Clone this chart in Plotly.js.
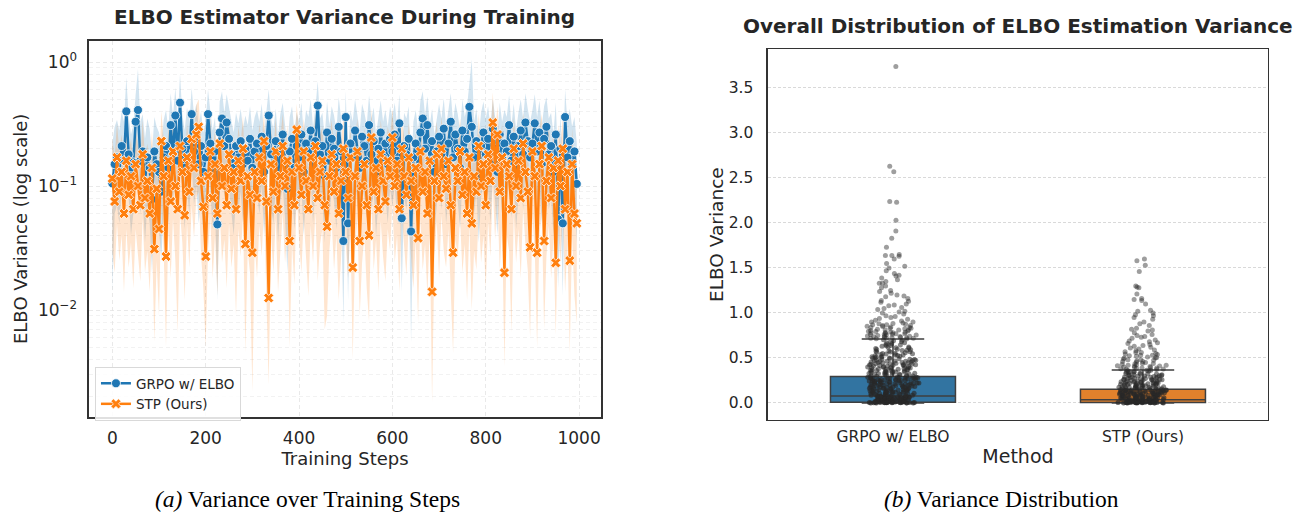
<!DOCTYPE html>
<html><head><meta charset="utf-8">
<script src="https://cdn.plot.ly/plotly-3.0.1.min.js"></script>
<style>html,body{margin:0;padding:0;background:#fff;}#chart{width:1299px;height:513px;}</style>
</head><body><div id="chart"></div>
<script>
// ---------- data ----------
const methods = ['GRPO w/ ELBO', 'STP (Ours)'];
const steps = [
0,5,10,15,20,25,30,35,40,45,50,55,60,65,70,75,80,85,90,95,
100,105,110,115,120,125,130,135,140,145,150,155,160,165,170,175,180,185,190,195,
200,205,210,215,220,225,230,235,240,245,250,255,260,265,270,275,280,285,290,295,
300,305,310,315,320,325,330,335,340,345,350,355,360,365,370,375,380,385,390,395,
400,405,410,415,420,425,430,435,440,445,450,455,460,465,470,475,480,485,490,495,
500,505,510,515,520,525,530,535,540,545,550,555,560,565,570,575,580,585,590,595,
600,605,610,615,620,625,630,635,640,645,650,655,660,665,670,675,680,685,690,695,
700,705,710,715,720,725,730,735,740,745,750,755,760,765,770,775,780,785,790,795,
800,805,810,815,820,825,830,835,840,845,850,855,860,865,870,875,880,885,890,895,
900,905,910,915,920,925,930,935,940,945,950,955,960,965,970,975,980,985,990,995];

const grpoMean = [
0.105,0.15,0.17,0.13,0.21,0.16,0.40,0.18,0.12,0.155,0.33,0.41,0.16,0.19,0.11,0.17,0.14,0.078,0.19,0.15,
0.13,0.09,0.17,0.21,0.14,0.31,0.18,0.37,0.16,0.47,0.20,0.14,0.23,0.17,0.38,0.19,0.25,0.15,0.21,0.13,
0.17,0.38,0.22,0.14,0.19,0.049,0.27,0.35,0.21,0.325,0.24,0.18,0.14,0.21,0.17,0.23,0.15,0.20,0.16,0.24,
0.14,0.19,0.22,0.17,0.25,0.13,0.21,0.37,0.18,0.15,0.23,0.12,0.20,0.26,0.16,0.095,0.19,0.24,0.14,0.21,
0.17,0.26,0.13,0.22,0.19,0.28,0.15,0.23,0.445,0.18,0.21,0.12,0.27,0.16,0.24,0.20,0.14,0.30,0.19,0.036,
0.36,0.05,0.22,0.17,0.28,0.19,0.14,0.25,0.21,0.16,0.31,0.18,0.23,0.13,0.20,0.27,0.17,0.22,0.15,0.24,
0.19,0.26,0.16,0.32,0.055,0.21,0.18,0.24,0.043,0.17,0.22,0.14,0.27,0.35,0.20,0.31,0.16,0.23,0.13,0.19,
0.25,0.18,0.29,0.15,0.22,0.33,0.17,0.26,0.20,0.14,0.28,0.19,0.24,0.435,0.30,0.17,0.23,0.12,0.21,0.27,
0.18,0.24,0.15,0.29,0.20,0.13,0.26,0.17,0.22,0.19,0.31,0.16,0.25,0.14,0.21,0.28,0.18,0.325,0.23,0.17,
0.22,0.32,0.19,0.27,0.15,0.24,0.30,0.18,0.21,0.13,0.26,0.054,0.20,0.05,0.36,0.17,0.23,0.15,0.19,0.104];

const grpoHigh = [
0.22,0.30,0.34,0.28,0.40,0.33,0.75,0.36,0.26,0.31,0.55,0.88,0.33,0.38,0.24,0.35,0.29,0.18,0.36,0.30,
0.27,0.21,0.34,0.41,0.29,0.56,0.36,0.62,0.32,0.80,0.38,0.28,0.43,0.33,0.62,0.37,0.46,0.30,0.40,0.27,
0.33,0.60,0.40,0.28,0.36,0.13,0.48,0.58,0.39,0.55,0.43,0.34,0.27,0.39,0.32,0.42,0.29,0.37,0.31,0.44,
0.28,0.36,0.41,0.33,0.46,0.26,0.39,0.60,0.35,0.29,0.42,0.25,0.38,0.47,0.31,0.21,0.36,0.44,0.28,0.39,
0.33,0.47,0.27,0.41,0.36,0.50,0.30,0.42,0.70,0.35,0.39,0.25,0.48,0.31,0.44,0.37,0.28,0.52,0.36,0.10,
0.58,0.14,0.41,0.33,0.50,0.36,0.28,0.46,0.39,0.31,0.54,0.35,0.43,0.26,0.37,0.49,0.33,0.41,0.30,0.44,
0.36,0.47,0.31,0.55,0.15,0.39,0.35,0.44,0.12,0.33,0.41,0.28,0.49,0.58,0.37,0.53,0.31,0.42,0.26,0.36,
0.46,0.35,0.51,0.30,0.41,0.56,0.33,0.47,0.38,0.28,0.50,0.36,0.44,0.68,1.05,0.33,0.42,0.25,0.39,0.48,
0.35,0.44,0.30,0.51,0.38,0.26,0.47,0.33,0.41,0.36,0.54,0.31,0.46,0.28,0.39,0.50,0.35,0.56,0.42,0.33,
0.41,0.55,0.36,0.49,0.30,0.44,0.52,0.35,0.39,0.26,0.47,0.15,0.38,0.14,0.60,0.33,0.42,0.30,0.36,0.22];

const grpoLow = [
0.014,0.06,0.07,0.05,0.09,0.06,0.16,0.07,0.04,0.06,0.12,0.15,0.06,0.08,0.035,0.07,0.05,0.02,0.08,0.055,
0.045,0.025,0.065,0.09,0.05,0.13,0.07,0.15,0.06,0.18,0.08,0.045,0.09,0.06,0.15,0.07,0.10,0.05,0.08,0.04,
0.06,0.15,0.09,0.045,0.07,0.012,0.11,0.14,0.08,0.13,0.095,0.065,0.04,0.08,0.06,0.09,0.05,0.075,0.055,0.095,
0.045,0.07,0.085,0.06,0.10,0.04,0.08,0.15,0.065,0.05,0.09,0.035,0.075,0.10,0.055,0.02,0.07,0.095,0.045,0.08,
0.06,0.10,0.04,0.085,0.07,0.11,0.05,0.09,0.18,0.065,0.08,0.035,0.105,0.055,0.095,0.075,0.045,0.12,0.07,0.008,
0.14,0.012,0.085,0.06,0.11,0.07,0.045,0.10,0.08,0.055,0.12,0.065,0.09,0.04,0.075,0.105,0.06,0.085,0.05,0.095,
0.07,0.10,0.055,0.13,0.014,0.08,0.065,0.095,0.0055,0.06,0.085,0.045,0.105,0.14,0.075,0.12,0.055,0.09,0.04,0.07,
0.10,0.065,0.115,0.05,0.085,0.13,0.06,0.10,0.075,0.045,0.11,0.07,0.095,0.18,0.12,0.06,0.09,0.035,0.08,0.105,
0.065,0.095,0.05,0.115,0.075,0.04,0.10,0.06,0.085,0.07,0.12,0.055,0.10,0.045,0.08,0.11,0.065,0.13,0.09,0.06,
0.085,0.13,0.07,0.105,0.05,0.095,0.12,0.065,0.08,0.04,0.10,0.015,0.075,0.013,0.14,0.06,0.09,0.05,0.07,0.035];

const stpMean = [
0.115,0.075,0.17,0.09,0.13,0.06,0.16,0.085,0.12,0.065,0.15,0.10,0.07,0.18,0.08,0.11,0.06,0.14,0.031,0.095,
0.045,0.23,0.12,0.027,0.16,0.075,0.19,0.10,0.065,0.21,0.13,0.058,0.17,0.09,0.24,0.14,0.26,0.30,0.11,0.068,
0.027,0.12,0.19,0.08,0.15,0.06,0.22,0.10,0.14,0.07,0.18,0.095,0.13,0.065,0.16,0.11,0.20,0.034,0.12,0.085,
0.029,0.13,0.08,0.17,0.11,0.23,0.075,0.0125,0.15,0.09,0.19,0.065,0.12,0.21,0.10,0.16,0.036,0.13,0.07,0.285,
0.14,0.085,0.19,0.11,0.065,0.17,0.10,0.21,0.08,0.13,0.16,0.07,0.047,0.12,0.18,0.09,0.15,0.06,0.11,0.20,
0.13,0.08,0.17,0.022,0.12,0.19,0.036,0.10,0.15,0.07,0.04,0.246,0.09,0.14,0.065,0.18,0.11,0.075,0.16,0.12,
0.246,0.10,0.15,0.065,0.20,0.12,0.085,0.17,0.11,0.07,0.14,0.038,0.19,0.09,0.13,0.06,0.16,0.014,0.11,0.18,
0.08,0.20,0.12,0.095,0.16,0.07,0.029,0.14,0.11,0.19,0.085,0.13,0.06,0.17,0.05,0.12,0.09,0.21,0.10,0.15,
0.07,0.18,0.11,0.325,0.14,0.26,0.09,0.17,0.020,0.15,0.12,0.065,0.20,0.10,0.16,0.08,0.22,0.13,0.09,0.032,
0.19,0.12,0.029,0.15,0.21,0.036,0.11,0.17,0.08,0.14,0.024,0.16,0.10,0.20,0.065,0.13,0.025,0.15,0.06,0.05];

const stpHigh = [
0.24,0.17,0.32,0.19,0.26,0.14,0.30,0.18,0.24,0.15,0.29,0.21,0.16,0.34,0.17,0.22,0.14,0.28,0.09,0.20,
0.12,0.40,0.24,0.08,0.31,0.17,0.35,0.21,0.15,0.38,0.26,0.14,0.32,0.19,0.42,0.27,0.45,0.50,0.22,0.16,
0.08,0.24,0.35,0.18,0.29,0.14,0.39,0.21,0.27,0.16,0.33,0.20,0.26,0.15,0.30,0.22,0.37,0.10,0.24,0.18,
0.09,0.26,0.17,0.32,0.22,0.40,0.16,0.05,0.29,0.19,0.35,0.15,0.24,0.38,0.21,0.31,0.11,0.26,0.16,0.46,
0.27,0.18,0.35,0.22,0.15,0.32,0.21,0.38,0.17,0.26,0.30,0.16,0.12,0.24,0.34,0.19,0.29,0.14,0.22,0.36,
0.26,0.17,0.32,0.07,0.24,0.35,0.10,0.21,0.29,0.16,0.11,0.42,0.19,0.27,0.15,0.34,0.22,0.17,0.30,0.24,
0.42,0.21,0.29,0.15,0.36,0.24,0.18,0.32,0.22,0.16,0.27,0.11,0.35,0.19,0.26,0.14,0.31,0.05,0.22,0.33,
0.17,0.36,0.24,0.20,0.31,0.16,0.09,0.27,0.22,0.35,0.18,0.26,0.14,0.32,0.13,0.24,0.19,0.38,0.21,0.29,
0.16,0.34,0.22,0.57,0.27,0.44,0.19,0.32,0.07,0.29,0.24,0.15,0.36,0.21,0.31,0.17,0.39,0.26,0.19,0.10,
0.35,0.24,0.09,0.29,0.38,0.11,0.22,0.32,0.17,0.27,0.08,0.31,0.21,0.36,0.15,0.26,0.08,0.29,0.14,0.13];

const stpLow = [
0.03,0.02,0.05,0.025,0.04,0.014,0.045,0.022,0.035,0.015,0.045,0.028,0.017,0.055,0.02,0.03,0.014,0.04,0.0055,0.025,
0.009,0.07,0.03,0.005,0.045,0.018,0.055,0.025,0.0065,0.06,0.035,0.012,0.05,0.022,0.07,0.038,0.08,0.09,0.028,0.015,
0.005,0.03,0.055,0.018,0.04,0.013,0.065,0.024,0.037,0.015,0.05,0.022,0.034,0.009,0.045,0.027,0.058,0.0045,0.03,0.02,
0.0022,0.034,0.018,0.048,0.027,0.068,0.015,0.0025,0.04,0.02,0.055,0.014,0.03,0.06,0.024,0.045,0.005,0.034,0.016,0.09,
0.037,0.02,0.055,0.027,0.013,0.048,0.024,0.062,0.017,0.034,0.045,0.007,0.009,0.03,0.052,0.021,0.04,0.012,0.027,0.058,
0.034,0.018,0.048,0.004,0.03,0.055,0.009,0.024,0.04,0.015,0.008,0.075,0.021,0.037,0.014,0.052,0.027,0.017,0.045,0.03,
0.075,0.024,0.04,0.014,0.058,0.03,0.019,0.048,0.027,0.015,0.037,0.008,0.055,0.021,0.034,0.013,0.045,0.0018,0.027,0.052,
0.018,0.058,0.03,0.022,0.045,0.015,0.0045,0.037,0.027,0.055,0.02,0.034,0.012,0.048,0.01,0.03,0.021,0.062,0.024,0.04,
0.015,0.052,0.027,0.10,0.037,0.08,0.021,0.048,0.0035,0.04,0.03,0.0066,0.058,0.024,0.045,0.018,0.065,0.034,0.021,0.006,
0.055,0.03,0.005,0.04,0.062,0.007,0.027,0.048,0.018,0.037,0.0063,0.045,0.024,0.058,0.014,0.034,0.0045,0.04,0.013,0.0078];

const logTickVals = [0.01, 0.1, 1];
const logTickText = ['10<sup>\u22122</sup>', '10<sup>\u22121</sup>', '10<sup>0</sup>'];
const logMinorVals = [0.002,0.003,0.004,0.005,0.006,0.007,0.008,0.009,0.02,0.03,0.04,0.05,0.06,0.07,0.08,0.09,0.2,0.3,0.4,0.5,0.6,0.7,0.8,0.9];
const stepTicks = [0, 200, 400, 600, 800, 1000];
const varianceTicks = [0, 0.5, 1, 1.5, 2, 2.5, 3, 3.5];

// box statistics (per method)
const boxQ1 = [0.007, 0.004];
const boxMedian = [0.078, 0.037];
const boxQ3 = [0.293, 0.152];
const boxLowerFence = [0, 0];
const boxUpperFence = [0.711, 0.367];

// individual per-sample variances (strip points)
const grpoPoints = [
0.000,0.001,0.003,0.002,0.005,0.004,0.008,0.001,0.011,0.006,0.014,0.002,0.017,0.009,0.021,0.004,0.024,0.012,0.028,0.007,
0.031,0.015,0.035,0.003,0.038,0.019,0.042,0.010,0.046,0.023,0.049,0.005,0.053,0.026,0.057,0.013,0.060,0.030,0.064,0.016,
0.067,0.033,0.071,0.020,0.074,0.037,0.076,0.044,0.052,0.062,0.070,0.040,0.055,0.066,0.073,
0.002,0.006,0.009,0.013,0.018,0.022,0.027,0.032,0.036,0.041,0.045,0.050,0.054,0.058,0.063,0.068,0.072,0.077,0.001,0.004,
0.012,0.025,0.039,0.051,0.065,0.003,0.016,0.029,0.047,0.061,
0.081,0.085,0.088,0.093,0.097,0.100,0.105,0.108,0.113,0.117,0.120,0.125,0.129,0.132,0.137,0.140,0.145,0.149,0.153,0.156,
0.161,0.165,0.168,0.173,0.177,0.180,0.185,0.188,0.193,0.196,0.201,0.205,0.208,0.213,0.216,0.221,0.225,0.228,0.233,0.237,
0.240,0.245,0.249,0.252,0.257,0.260,0.265,0.268,0.273,0.276,0.281,0.284,0.289,0.087,0.106,0.127,0.146,0.166,0.187,0.206,
0.227,0.247,0.266,0.283,0.094,0.118,0.139,0.158,0.179,0.198,0.219,0.238,0.259,0.278,0.099,0.131,0.171,0.212,0.251,0.287,
0.083,0.091,0.102,0.111,0.122,0.134,0.143,0.154,0.163,0.175,0.183,0.191,0.203,0.215,0.223,0.231,0.243,0.254,0.262,0.271,
0.279,0.286,0.090,0.115,0.142,0.169,0.195,0.222,0.249,0.274,
0.296,0.301,0.305,0.310,0.314,0.318,0.323,0.327,0.331,0.336,0.340,0.345,0.349,0.353,0.358,0.362,0.367,0.371,0.376,0.380,
0.385,0.389,0.394,0.398,0.403,0.408,0.412,0.417,0.422,0.426,0.431,0.436,0.441,0.446,0.451,0.456,0.461,0.466,0.471,0.476,
0.482,0.487,0.492,0.498,0.503,0.509,0.515,0.520,0.526,0.532,0.538,0.544,0.550,0.557,0.563,0.570,0.577,0.584,0.591,0.598,
0.606,0.614,0.622,0.631,0.640,0.649,0.659,0.669,0.680,0.692,0.704,0.299,0.312,0.326,0.339,0.352,0.365,0.379,0.392,0.406,
0.420,0.434,0.449,0.464,0.479,0.495,0.512,0.529,0.547,0.566,0.587,0.610,0.636,0.665,0.698,
0.298,0.307,0.316,0.329,0.334,0.343,0.355,0.360,0.369,0.383,0.391,0.400,0.410,0.419,0.428,0.438,0.443,0.454,0.463,0.473,
0.485,0.500,0.517,0.535,0.553,0.574,0.595,0.618,0.645,0.675,
3.74,2.63,2.57,2.24,2.23,2.03,1.91,1.83,1.73,1.65,1.64,1.64,1.63,1.60,1.55,1.52,1.50,1.47,1.44,1.41,
1.39,1.37,1.35,1.33,1.30,1.28,1.25,1.22,1.20,1.18,1.16,1.14,1.12,1.10,1.08,1.06,1.04,1.02,1.00,0.99,
0.97,0.95,0.94,0.92,0.91,0.90,0.88,0.87,0.86,0.85,0.84,0.83,0.82,0.81,0.80,0.79,0.78,0.78,0.77,0.76,
0.76,0.75,0.74,0.74,0.73,0.73,0.72,0.72,0.715,0.725,0.735,0.745,0.755,0.765,0.775,0.785,0.795,0.805,0.815,0.83,
0.845,0.86,0.875,0.89,0.712,0.718,0.728,0.742,0.758,0.768,0.782,0.798,0.812,0.825,0.838,0.852,0.868,0.883,0.90,0.93,
0.96,1.01,1.05,1.09,1.13,1.19,1.24,1.33,1.42];

const stpPoints = [
0.000,0.001,0.002,0.001,0.003,0.004,0.002,0.005,0.006,0.003,0.007,0.008,0.004,0.009,0.011,0.005,0.012,0.014,0.006,0.015,
0.017,0.008,0.018,0.020,0.010,0.021,0.023,0.013,0.024,0.026,0.016,0.027,0.029,0.019,0.030,0.032,0.022,0.033,0.035,0.025,
0.000,0.002,0.004,0.006,0.009,0.012,0.015,0.019,0.023,0.028,0.031,0.034,0.001,0.005,0.010,
0.038,0.040,0.042,0.044,0.046,0.048,0.050,0.053,0.055,0.057,0.059,0.061,0.063,0.066,0.068,0.070,0.072,0.074,0.076,0.079,
0.081,0.083,0.085,0.087,0.089,0.092,0.094,0.096,0.098,0.100,0.102,0.105,0.107,0.109,0.111,0.113,0.115,0.118,0.120,0.122,
0.124,0.126,0.128,0.131,0.133,0.135,0.137,0.139,0.141,0.144,0.146,0.148,0.150,0.043,0.067,0.091,0.103,0.117,0.129,0.143,
0.039,0.045,0.052,0.058,0.064,0.071,0.078,0.084,0.090,0.097,0.104,0.110,0.116,0.123,0.130,0.136,0.142,0.149,0.056,0.088,
0.154,0.157,0.160,0.163,0.166,0.169,0.172,0.175,0.178,0.181,0.184,0.187,0.190,0.193,0.196,0.200,0.203,0.206,0.209,0.213,
0.216,0.219,0.223,0.226,0.229,0.233,0.236,0.240,0.243,0.247,0.250,0.254,0.258,0.261,0.265,0.269,0.273,0.277,0.281,0.285,
0.289,0.293,0.297,0.302,0.306,0.311,0.316,0.321,0.326,0.331,0.337,0.343,0.349,0.355,0.361,0.158,0.171,0.185,0.198,0.212,
0.227,0.242,0.257,0.272,0.288,0.305,0.323,0.342,0.363,0.365,
0.155,0.162,0.168,0.176,0.183,0.191,0.199,0.207,0.215,0.224,0.232,0.241,0.252,0.263,0.275,0.287,0.300,0.314,0.328,0.345,
1.60,1.58,1.53,1.46,1.30,1.29,1.28,1.21,1.16,1.15,1.14,1.10,1.03,1.02,1.00,0.98,0.95,0.93,0.90,0.88,
0.86,0.83,0.81,0.80,0.78,0.76,0.75,0.73,0.72,0.70,0.69,0.67,0.66,0.65,0.63,0.62,0.60,0.59,0.58,0.57,
0.56,0.55,0.54,0.53,0.52,0.51,0.50,0.49,0.48,0.47,0.46,0.45,0.44,0.43,0.42,0.41,0.40,0.39,0.385,0.38,
0.375,0.395,0.405,0.415,0.425,0.435,0.455,0.475,0.505,0.525,0.545,
0.372,0.378,0.388,0.398,0.410,0.420,0.440,0.460,0.480,0.500,0.530,0.560,0.610,0.640,0.680,0.740,0.820,0.970];

// ---------- styles ----------
const BLUE = '#1f77b4', ORANGE = '#ff7f0e';
const BLUE_BAND = 'rgba(31,119,180,0.2)', ORANGE_BAND = 'rgba(255,127,14,0.2)';
const boxFills = ['#3274a1', '#e1812c'];
const TXT = '#262626';
const FONT = 'DejaVu Sans, Verdana, sans-serif';
const tierAlpha = [0.7, 0.65, 0.55, 0.45];

const traces = [];
function band(lo, hi, color) {
  traces.push({x: steps, y: lo, type: 'scatter', mode: 'lines', line: {width: 0, color: color},
    hoverinfo: 'skip', showlegend: false, xaxis: 'x', yaxis: 'y'});
  traces.push({x: steps, y: hi, type: 'scatter', mode: 'lines', line: {width: 0, color: color},
    fill: 'tonexty', fillcolor: color, hoverinfo: 'skip', showlegend: false, xaxis: 'x', yaxis: 'y'});
}
band(grpoLow, grpoHigh, BLUE_BAND);
band(stpLow, stpHigh, ORANGE_BAND);

traces.push({x: steps, y: grpoMean, type: 'scatter', mode: 'lines+markers', name: methods[0],
  line: {color: BLUE, width: 2.5}, marker: {symbol: 'circle', size: 9, color: BLUE, line: {color: '#ffffff', width: 0.8}},
  xaxis: 'x', yaxis: 'y'});
traces.push({x: steps, y: stpMean, type: 'scatter', mode: 'lines+markers', name: methods[1],
  line: {color: ORANGE, width: 2.5}, marker: {symbol: 'x', size: 9, color: ORANGE, line: {color: '#ffffff', width: 0.8}},
  xaxis: 'x', yaxis: 'y'});

// boxes
methods.forEach((m, i) => {
  traces.push({type: 'box', x: [m], q1: [boxQ1[i]], median: [boxMedian[i]], q3: [boxQ3[i]],
    lowerfence: [boxLowerFence[i]], upperfence: [boxUpperFence[i]],
    fillcolor: boxFills[i], line: {color: '#3f3f3f', width: 1.5}, width: 0.5, whiskerwidth: 0.5,
    boxpoints: false, showlegend: false, hoverinfo: 'skip', xaxis: 'x2', yaxis: 'y2'});
});
// strip points (split into density tiers so the jitter stays even)
[grpoPoints, stpPoints].forEach((pts, i) => {
  const cuts = [-Infinity, boxMedian[i], boxQ3[i], boxUpperFence[i], Infinity];
  for (let k = 0; k < 4; k++) {
    const vals = pts.filter(v => v >= cuts[k] && v < cuts[k + 1]);
    traces.push({type: 'box', x: vals.map(() => methods[i]), y: vals, boxpoints: 'all', jitter: 0.42, pointpos: 0,
      fillcolor: 'rgba(0,0,0,0)', line: {width: 0, color: 'rgba(0,0,0,0)'}, width: 0.5,
      marker: {color: 'rgba(40,40,40,' + tierAlpha[k] + ')', size: 5, line: {width: 0}},
      showlegend: false, hoveron: 'points', xaxis: 'x2', yaxis: 'y2'});
  }
});

const frame = {showline: true, mirror: true, linecolor: '#333333', linewidth: 1.5, zeroline: false};

const layout = {
  width: 1299, height: 513, margin: {l: 0, r: 0, t: 0, b: 0},
  paper_bgcolor: '#ffffff', plot_bgcolor: '#ffffff',
  font: {family: FONT, color: TXT},
  hovermode: false, boxmode: 'overlay',
  showlegend: true,
  legend: {x: 0.0731, y: 0.2846, xanchor: 'left', yanchor: 'top', traceorder: 'normal', bgcolor: 'rgba(255,255,255,0.85)',
    bordercolor: '#d9d9d9', borderwidth: 1, font: {size: 13.5, family: FONT, color: TXT}, tracegroupgap: 0},
  xaxis: Object.assign({}, frame, {domain: [0.0685, 0.4627], anchor: 'y', range: [-50, 1047],
    tickmode: 'array', tickvals: stepTicks, ticks: '', ticklabelstandoff: 5,
    showgrid: true, gridcolor: '#e3e3e3', griddash: '4px,3px', gridwidth: 0.8,
    tickfont: {size: 17, family: FONT, color: TXT},
    title: {text: 'Training Steps', font: {size: 18, family: FONT, color: TXT}, standoff: 0}}),
  yaxis: Object.assign({}, frame, {domain: [0.1871, 0.9207], anchor: 'x', type: 'log', range: [-2.863, 0.172],
    tickmode: 'array', tickvals: logTickVals, ticktext: logTickText, ticks: '', ticklabelstandoff: 7,
    showgrid: true, gridcolor: '#e3e3e3', griddash: '4px,3px', gridwidth: 0.8,
    minor: {tickmode: 'array', tickvals: logMinorVals, showgrid: true, gridcolor: '#ececec', griddash: '4px,3px', gridwidth: 0.7, ticks: ''},
    tickfont: {size: 17, family: FONT, color: TXT},
    title: {text: 'ELBO Variance (log scale)', font: {size: 18, family: FONT, color: TXT}, standoff: 5}}),
  xaxis2: Object.assign({}, frame, {domain: [0.5912, 0.9761], anchor: 'y2', type: 'category',
    categoryorder: 'array', categoryarray: methods, range: [-0.5, 1.5], ticks: '', ticklabelstandoff: 2,
    showgrid: false, tickfont: {size: 15.5, family: FONT, color: TXT},
    title: {text: 'Method', font: {size: 19, family: FONT, color: TXT}, standoff: 4}}),
  yaxis2: Object.assign({}, frame, {domain: [0.1813, 0.9039], anchor: 'x2', range: [-0.189, 3.93],
    tickmode: 'array', tickvals: varianceTicks, tickformat: '.1f', ticks: '', ticklabelstandoff: 10,
    showgrid: true, gridcolor: '#d0d0d0', griddash: '3px,2px', gridwidth: 0.8,
    tickfont: {size: 15.5, family: FONT, color: TXT},
    title: {text: 'ELBO Variance', font: {size: 18.5, family: FONT, color: TXT}, standoff: 0}}),
  annotations: [
    {text: '<b>ELBO Estimator Variance During Training</b>', xref: 'paper', yref: 'paper', x: 0.2655, y: 0.9665,
      xanchor: 'center', yanchor: 'middle', showarrow: false, font: {size: 20, family: FONT, color: TXT}},
    {text: '<b>Overall Distribution of ELBO Estimation Variance</b>', xref: 'paper', yref: 'paper', x: 0.7837, y: 0.9493,
      xanchor: 'center', yanchor: 'middle', showarrow: false, font: {size: 20, family: FONT, color: TXT}},
    {text: '<i>(a)</i> Variance over Training Steps', xref: 'paper', yref: 'paper', x: 0.2367, y: 0.027,
      xanchor: 'center', yanchor: 'middle', showarrow: false, font: {size: 23.5, family: 'Liberation Serif, Times New Roman, serif', color: '#000'}},
    {text: '<i>(b)</i> Variance Distribution', xref: 'paper', yref: 'paper', x: 0.7706, y: 0.027,
      xanchor: 'center', yanchor: 'middle', showarrow: false, font: {size: 23.5, family: 'Liberation Serif, Times New Roman, serif', color: '#000'}}
  ]
};

Plotly.newPlot('chart', traces, layout, {displayModeBar: false, staticPlot: true});
</script>
</body></html>
